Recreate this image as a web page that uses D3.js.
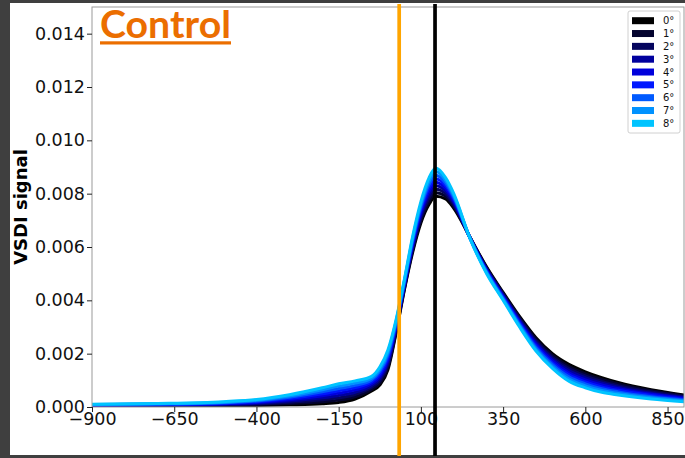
<!DOCTYPE html>
<html><head><meta charset="utf-8">
<script src="https://cdn.jsdelivr.net/npm/d3@7/dist/d3.min.js"></script>
<style>html,body{margin:0;padding:0;background:#3f3f3f;}svg{display:block;}</style>
</head><body>
<script>
// ---- data ----
const times = [-900,-700,-500,-400,-300,-200,-150,-100,-50,-25,0,25,50,75,100,125,145,175,200,250,300,350,400,450,500,550,600,650,700,800,900];
const seriesNames = ["0°","1°","2°","3°","4°","5°","6°","7°","8°"];
const seriesColors = ["#000000","#03032e","#05055e","#00009e","#0000dc","#0018ff","#005aff","#0092ff","#00c4ff"];
const s0 = [3e-5,4e-5,5e-5,6e-5,8e-5,12e-5,17e-5,30e-5,60e-5,82e-5,140e-5,280e-5,440e-5,580e-5,690e-5,760e-5,790e-5,780e-5,745e-5,635e-5,525e-5,430e-5,340e-5,260e-5,200e-5,160e-5,132e-5,110e-5,92e-5,65e-5,45e-5];
const s1 = [3.9e-5,5.1e-5,6.9e-5,8.8e-5,12.8e-5,19.5e-5,25.8e-5,38.5e-5,66.9e-5,90.5e-5,149.4e-5,286.3e-5,445e-5,587.5e-5,700e-5,772.5e-5,803.3e-5,790e-5,751.9e-5,634.4e-5,521.9e-5,426.3e-5,335e-5,253.8e-5,193.1e-5,152.1e-5,124.5e-5,103.1e-5,86.1e-5,60.6e-5,41.9e-5];
const s2 = [4.8e-5,6.3e-5,8.8e-5,11.5e-5,17.5e-5,27e-5,34.5e-5,47e-5,73.8e-5,99e-5,158.8e-5,292.5e-5,450e-5,595e-5,710e-5,785e-5,816.5e-5,800e-5,758.8e-5,633.8e-5,518.8e-5,422.5e-5,330e-5,247.5e-5,186.3e-5,144.3e-5,117e-5,96.3e-5,80.3e-5,56.3e-5,38.8e-5];
const s3 = [5.6e-5,7.4e-5,10.6e-5,14.3e-5,22.3e-5,34.5e-5,43.3e-5,55.5e-5,80.6e-5,107.5e-5,168.1e-5,298.8e-5,455e-5,602.5e-5,720e-5,797.5e-5,829.8e-5,810e-5,765.6e-5,633.1e-5,515.6e-5,418.8e-5,325e-5,241.3e-5,179.4e-5,136.4e-5,109.5e-5,89.4e-5,74.4e-5,51.9e-5,35.6e-5];
const s4 = [6.5e-5,8.5e-5,12.5e-5,17e-5,27e-5,42e-5,52e-5,64e-5,87.5e-5,116e-5,177.5e-5,305e-5,460e-5,610e-5,730e-5,810e-5,843e-5,820e-5,772.5e-5,632.5e-5,512.5e-5,415e-5,320e-5,235e-5,172.5e-5,128.5e-5,102e-5,82.5e-5,68.5e-5,47.5e-5,32.5e-5];
const s5 = [7.4e-5,9.6e-5,14.4e-5,19.8e-5,31.8e-5,49.5e-5,60.8e-5,72.5e-5,94.4e-5,124.5e-5,186.9e-5,311.3e-5,465e-5,617.5e-5,740e-5,822.5e-5,856.3e-5,830e-5,779.4e-5,631.9e-5,509.4e-5,411.3e-5,315e-5,228.8e-5,165.6e-5,120.6e-5,94.5e-5,75.6e-5,62.6e-5,43.1e-5,29.4e-5];
const s6 = [8.3e-5,10.8e-5,16.3e-5,22.5e-5,36.5e-5,57e-5,69.5e-5,81e-5,101.3e-5,133e-5,196.3e-5,317.5e-5,470e-5,625e-5,750e-5,835e-5,869.5e-5,840e-5,786.3e-5,631.3e-5,506.3e-5,407.5e-5,310e-5,222.5e-5,158.8e-5,112.8e-5,87e-5,68.8e-5,56.8e-5,38.8e-5,26.3e-5];
const s7 = [9.1e-5,11.9e-5,18.1e-5,25.3e-5,41.3e-5,64.5e-5,78.3e-5,89.5e-5,108.1e-5,141.5e-5,205.6e-5,323.8e-5,475e-5,632.5e-5,760e-5,847.5e-5,882.8e-5,850e-5,793.1e-5,630.6e-5,503.1e-5,403.8e-5,305e-5,216.3e-5,151.9e-5,104.9e-5,79.5e-5,61.9e-5,50.9e-5,34.4e-5,23.1e-5];
const s8 = [10e-5,13e-5,20e-5,28e-5,46e-5,72e-5,87e-5,98e-5,115e-5,150e-5,215e-5,330e-5,480e-5,640e-5,770e-5,860e-5,896e-5,860e-5,800e-5,630e-5,500e-5,400e-5,300e-5,210e-5,145e-5,97e-5,72e-5,55e-5,45e-5,30e-5,20e-5];
const seriesValues = [s0,s1,s2,s3,s4,s5,s6,s7,s8];
const xTicks = [-900,-650,-400,-150,100,350,600,850];
const yTicks = [0,0.002,0.004,0.006,0.008,0.010,0.012,0.014];
const markerTimes = [34,143];
const markerColors = ["#ffa500","#000000"];
const titleText = "Control";
const yLabel = "VSDI signal";

// ---- layout ----
const W = 685, H = 458;
const svg = d3.select("body").append("svg").attr("width", W).attr("height", H);
svg.append("rect").attr("x",0).attr("y",0).attr("width",W).attr("height",H).attr("fill","#3f3f3f");
svg.append("rect").attr("x",10).attr("y",3).attr("width",W-10).attr("height",452).attr("fill","#ffffff");

const L = 92, R = 684, T = 7, B = 407;
const x = d3.scaleLinear().domain([-900,900]).range([L,R]);
const y = d3.scaleLinear().domain([0,0.015]).range([B,T]);

svg.append("defs").append("clipPath").attr("id","clip")
  .append("rect").attr("x",L).attr("y",T).attr("width",R-L).attr("height",B-T);

const line = d3.line().x(d=>x(d[0])).y(d=>y(d[1])).curve(d3.curveMonotoneX);
const g = svg.append("g").attr("clip-path","url(#clip)");
seriesValues.forEach((vals,i)=>{
  g.append("path").datum(times.map((t,j)=>[t,vals[j]]))
    .attr("d",line).attr("fill","none").attr("stroke",seriesColors[i])
    .attr("stroke-width",3).attr("stroke-linejoin","round");
});

// spines
const spine = "#9a9a9a";
svg.append("rect").attr("x",L).attr("y",T).attr("width",R-L).attr("height",B-T)
  .attr("fill","none").attr("stroke",spine).attr("stroke-width",1);

const font = "'DejaVu Sans', sans-serif";
const yAxis = svg.append("g").attr("transform",`translate(${L},0)`)
  .call(d3.axisLeft(y).tickValues(yTicks).tickFormat(d3.format(".3f")).tickSize(5).tickPadding(2));
yAxis.select(".domain").remove();
yAxis.selectAll("text").attr("font-family",font).attr("font-size",17.5).attr("fill","#111");
yAxis.selectAll("line").attr("stroke","#222");

const xAxis = svg.append("g").attr("transform",`translate(0,${B})`)
  .call(d3.axisBottom(x).tickValues(xTicks).tickFormat(d=>d3.format("d")(d).replace("-","−")).tickSize(5).tickPadding(1));
xAxis.select(".domain").remove();
xAxis.selectAll("text").attr("font-family",font).attr("font-size",17.5).attr("fill","#111");
xAxis.selectAll("line").attr("stroke","#222");

// marker lines
markerTimes.forEach((t,i)=>{
  svg.append("line").attr("x1",x(t)).attr("x2",x(t)).attr("y1",4).attr("y2",456)
    .attr("stroke",markerColors[i]).attr("stroke-width",3.7);
});

// y label
svg.append("text").attr("transform","translate(27,207) rotate(-90)")
  .attr("text-anchor","middle").attr("font-family",font).attr("font-weight","bold")
  .attr("font-size",18).attr("fill","#000").text(yLabel);

// title
svg.append("text").attr("x",100).attr("y",38)
  .attr("font-family","Lato, 'Open Sans', sans-serif").attr("font-weight","bold")
  .attr("font-size",38).attr("fill","#eb6e00")
  .attr("textLength",131).attr("lengthAdjust","spacingAndGlyphs").text(titleText);
svg.append("rect").attr("x",100).attr("y",41.3).attr("width",131).attr("height",3.2).attr("fill","#eb6e00");

// legend
const lg = svg.append("g");
lg.append("rect").attr("x",628).attr("y",11).attr("width",52).attr("height",122).attr("rx",2)
  .attr("fill","#fff").attr("stroke","#d0d0d0").attr("stroke-width",1);
seriesNames.forEach((n,i)=>{
  const cy = 20.7 + i*12.83;
  lg.append("rect").attr("x",632).attr("y",cy-3.5).attr("width",22).attr("height",7).attr("fill",seriesColors[i]);
  lg.append("text").attr("x",663).attr("y",cy+3.6).attr("font-family",font).attr("font-size",10)
    .attr("fill","#111").text(n);
});
</script>
</body></html>
